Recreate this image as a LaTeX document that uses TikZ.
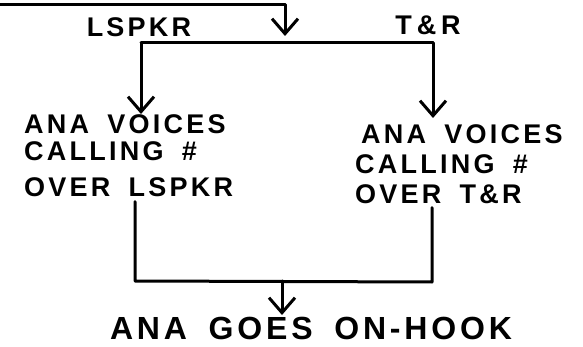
\documentclass[tikz,border=0pt]{standalone}
\usepackage{fontspec}
\setmainfont{Liberation Sans}[LetterSpace=12, WordSpace=1.7]
\usetikzlibrary{arrows.meta,calc}
\tikzset{
  wire/.style={line width=3pt, line cap=round, line join=round},
  arr/.style={wire, -{Straight Barb[length=15pt,width=26pt,line width=3pt]}},
  lbl/.style={inner sep=0pt, font=\bfseries\fontsize{27}{31}\selectfont},
  blk/.style={inner sep=0pt, align=left, font=\bfseries\fontsize{27}{30}\selectfont}
}
\begin{document}
\begin{tikzpicture}[x=1pt,y=-1pt]
\useasboundingbox (0,0) rectangle (583,347);
% labels
\node[lbl] (lsp) at (139,27) {LSPKR};
\node[lbl] (tr) at (428,25) {T\hspace{5pt}\&\hspace{5pt}R};
% text blocks
\node[blk, anchor=north west] (lt) at (24,114) {ANA VOICES\\[-3pt]CALLING \#\\[6pt]OVER LSPKR};
\node[blk, anchor=north west] (rt) at (355,124) {\hspace*{6pt}ANA VOICES\\CALLING \#\\OVER T\&R};
\node[inner sep=0pt, anchor=north, font=\bfseries\fontsize{32}{36}\selectfont] (bt) at (311,317) {ANA GOES ON-HOOK};
% coordinates
\coordinate (start) at (0,5);
\coordinate (j0) at (285,5);
\coordinate (b0) at (285,43);
\coordinate (bl) at (141,43);
\coordinate (br) at (433,43);
\coordinate (ml) at (135,281);
\coordinate (mr) at (432,282);
\coordinate (m0) at (282,281);
% connectors
\draw[arr, shorten >=7pt] (start) -- (j0) -- (b0);
\draw[wire] (bl) -- (br);
\draw[arr] (bl) -- (bl |- lt.north);
\draw[arr, shorten >=6pt] (br) -- (br |- rt.north);
\draw[wire] ($(lt.south -| ml)+(0,5)$) -- (ml) -- (mr) -- ($(rt.south -| mr)+(0,4)$);
\draw[arr, shorten >=2pt] (m0) -- (m0 |- bt.north);
\end{tikzpicture}
\end{document}
